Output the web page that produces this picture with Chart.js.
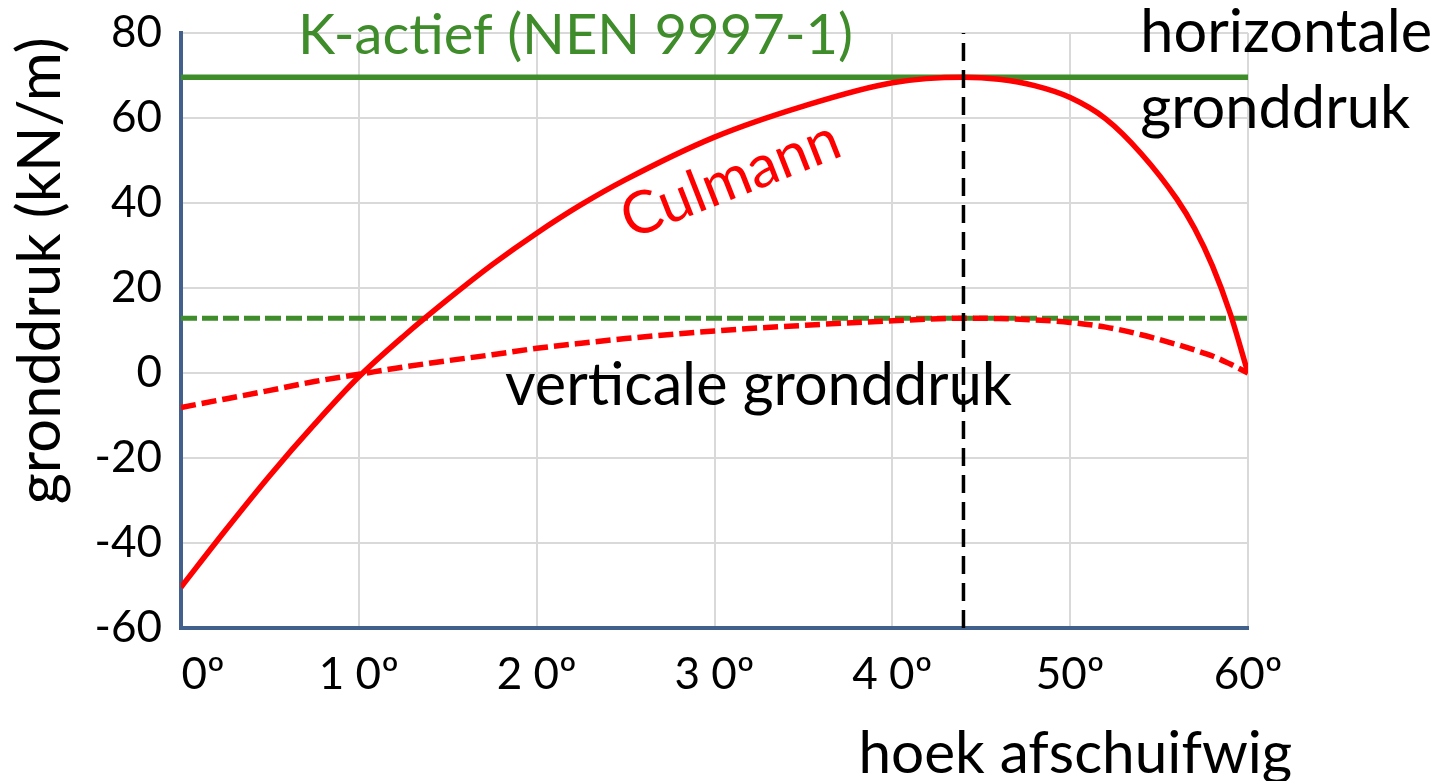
<!DOCTYPE html>
<html>
<head>
<meta charset="utf-8">
<script src="https://cdn.jsdelivr.net/npm/chart.js@4/dist/chart.umd.min.js"></script>
<style>
html, body { margin: 0; padding: 0; background: #fff; }
</style>
</head>
<body>
<canvas id="grafiek" width="1444" height="781"></canvas>
<script>
// hoek afschuifwig (graden) en gronddruk (kN/m)
var hoeken = [0, 2.5, 5, 7.5, 10, 12.5, 15, 17.5, 20, 22.5, 25, 30, 35, 40, 44, 46, 48, 50, 52, 54, 56, 57, 58, 59, 60];
var culmann = [-50.4, -37.0, -24.1, -12.1, -0.9, 8.6, 17.3, 25.5, 32.9, 39.6, 45.5, 55.5, 62.8, 68.3, 69.6, 69.1, 67.6, 64.8, 59.8, 51.6, 40.9, 34.0, 25.2, 14.0, 0];
var verticaal = [-8.1, -6.1, -4.1, -2.0, -0.3, 1.4, 2.9, 4.3, 5.8, 7.0, 8.1, 9.9, 11.2, 12.3, 12.9, 12.8, 12.5, 11.9, 10.8, 9.0, 6.7, 5.4, 4.0, 2.1, 0];

var kActiefHor = 69.6;
var kActiefVert = 12.9;
var hoekMax = 44;

var xTickLabels = ["\u2002\u20020º", "1 0º", "2 0º", "3 0º", "4 0º", "50º", "60º"];
var yMin = -60, yMax = 80, yStap = 20;
var xMin = 0, xMax = 60, xStap = 10;

var groen = '#3F8C2B';
var rood = '#FF0000';
var font = 'Lato, "Open Sans", sans-serif';

function punten(xs, ys) {
    return xs.map(function (x, i) { return { x: x, y: ys[i] }; });
}

var tekstPlugin = {
    id: 'teksten',
    afterDraw: function (chart) {
        var ctx = chart.ctx;
        var sx = chart.scales.x, sy = chart.scales.y;

        // tekst op een plek in grafiekwaarden, lettergrootte passend bij gewenste breedte
        function schrijf(str, hoek, waarde, kleur, breedte, align, rot, baseline) {
            ctx.save();
            ctx.font = '50px ' + font;
            var size = 50 * breedte / ctx.measureText(str).width;
            ctx.font = size + 'px ' + font;
            ctx.fillStyle = kleur;
            ctx.textAlign = align;
            ctx.textBaseline = baseline || 'alphabetic';
            ctx.translate(sx.getPixelForValue(hoek), sy.getPixelForValue(waarde));
            if (rot) ctx.rotate(rot * Math.PI / 180);
            ctx.fillText(str, 0, 0);
            ctx.restore();
        }

        schrijf('gronddruk (kN/m)', -6.8, 79.0, '#000', 467, 'right', -90);
        schrijf('K-ac\u200Ctief (NEN 9997-1)', 22.19, 75.0, groen, 555, 'center');
        schrijf('horizontale', 53.94, 75.5, '#000', 292, 'left');
        schrijf('gronddruk', 53.94, 57.7, '#000', 270, 'left');
        schrijf('ver\u200Cticale gronddruk', 18.22, -7.6, '#000', 507, 'left');
        schrijf('hoek afschuifwig', 62.49, -94.2, '#000', 434, 'right');
        schrijf('Culmann', 30.9, 45.5, rood, 230, 'center', -21.5, 'middle');
    }
};

var grafiek = document.getElementById("grafiek");
var myLineChart = new Chart(grafiek, {
    type: 'line',
    data: {
        datasets: [{
            label: 'Culmann',
            data: punten(hoeken, culmann),
            borderColor: rood,
            borderWidth: 5.5,
            pointRadius: 0,
            cubicInterpolationMode: 'monotone',
            order: 1
        }, {
            label: 'verticale gronddruk',
            data: punten(hoeken, verticaal),
            borderColor: rood,
            borderWidth: 5.5,
            borderDash: [15, 6],
            pointRadius: 0,
            cubicInterpolationMode: 'monotone',
            order: 1
        }, {
            label: 'K-actief horizontaal',
            data: [{ x: xMin, y: kActiefHor }, { x: xMax, y: kActiefHor }],
            borderColor: groen,
            borderWidth: 5.5,
            pointRadius: 0,
            order: 2
        }, {
            label: 'K-actief verticaal',
            data: [{ x: xMin, y: kActiefVert }, { x: xMax, y: kActiefVert }],
            borderColor: groen,
            borderWidth: 5,
            borderDash: [16, 5],
            pointRadius: 0,
            order: 2
        }, {
            label: 'maximum',
            data: [{ x: hoekMax, y: yMin }, { x: hoekMax, y: yMax }],
            borderColor: '#000',
            borderWidth: 3.5,
            borderDash: [18, 9],
            pointRadius: 0,
            order: 0
        }]
    },
    options: {
        responsive: false,
        animation: false,
        layout: {
            padding: { top: 33, right: 196, left: 0, bottom: 0 }
        },
        plugins: {
            legend: { display: false },
            tooltip: { enabled: false }
        },
        scales: {
            x: {
                type: 'linear',
                min: xMin,
                max: xMax,
                afterFit: function (scale) { scale.height = 153; },
                grid: { color: '#D9D9D9', lineWidth: 2, drawTicks: false },
                border: { color: '#41618C', width: 4 },
                ticks: {
                    stepSize: xStap,
                    maxRotation: 0,
                    autoSkip: false,
                    padding: 20,
                    color: '#000',
                    font: { family: font, size: 44 },
                    callback: function (v) { return xTickLabels[Math.round(v / xStap)]; }
                }
            },
            y: {
                min: yMin,
                max: yMax,
                afterFit: function (scale) {
                    scale.width = 181;
                    scale.paddingTop = 0;
                    scale.paddingBottom = 0;
                },
                grid: { color: '#D9D9D9', lineWidth: 2, drawTicks: false },
                border: { color: '#41618C', width: 4 },
                ticks: {
                    stepSize: yStap,
                    padding: 19,
                    color: '#000',
                    font: { family: font, size: 44 }
                }
            }
        }
    },
    plugins: [tekstPlugin]
});
</script>
</body>
</html>
